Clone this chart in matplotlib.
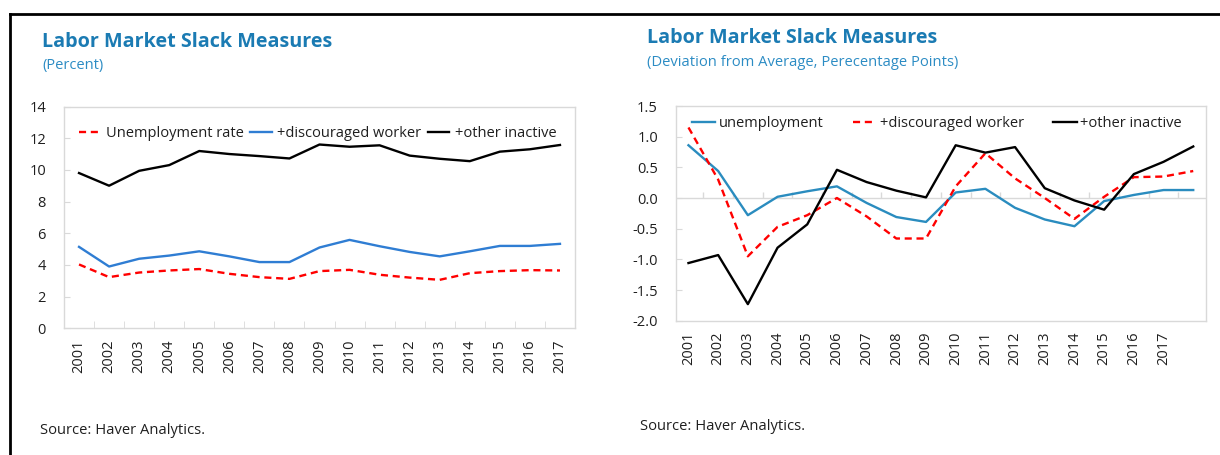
"""
Labor market slack measures - two panel line chart
"""
import matplotlib.pyplot as plt
from matplotlib.lines import Line2D
import numpy as np

plt.rcParams['font.family'] = ['Open Sans', 'DejaVu Sans']

years = [str(y) for y in range(2001, 2018)]

# left panel, percent
unemp_rate = [4.03, 3.23, 3.52, 3.65, 3.74, 3.44, 3.23, 3.12, 3.61, 3.69,
              3.38, 3.20, 3.06, 3.48, 3.61, 3.67, 3.65]
disc_worker = [5.14, 3.90, 4.39, 4.59, 4.86, 4.54, 4.18, 4.18, 5.10, 5.58,
               5.18, 4.82, 4.54, 4.86, 5.20, 5.20, 5.33]
other_inactive = [9.80, 9.00, 9.94, 10.30, 11.19, 11.00, 10.87, 10.72, 11.60, 11.46,
                  11.55, 10.90, 10.70, 10.55, 11.15, 11.30, 11.57]

# right panel, deviation from average (18 obs, last one has no label)
dev_unemp = [0.86, 0.44, -0.28, 0.02, 0.11, 0.19, -0.08, -0.31, -0.39, 0.09,
             0.15, -0.16, -0.35, -0.46, -0.05, 0.05, 0.13, 0.13]
dev_disc = [1.15, 0.30, -0.95, -0.47, -0.28, 0.00, -0.30, -0.66, -0.66, 0.19,
            0.73, 0.32, 0.00, -0.34, 0.02, 0.34, 0.35, 0.44]
dev_other = [-1.06, -0.93, -1.73, -0.81, -0.43, 0.46, 0.26, 0.12, 0.01, 0.86,
             0.74, 0.83, 0.16, -0.04, -0.19, 0.39, 0.59, 0.84]

TITLE_C = '#1B7BB3'
SUB_C = '#2C8CC4'
SPINE_C = '#D9D9D9'
TEXT_C = '#1F1F1F'
RED = '#FF0000'
BLUE = '#2F7DD3'
TEAL = '#2A8CBF'

fig = plt.figure(figsize=(12.2, 4.55), dpi=100)

# outer frame (top and left edges only)
fig.add_artist(Line2D([10 / 1220, 1.0], [1 - 14 / 455, 1 - 14 / 455], color='black', lw=2.0))
fig.add_artist(Line2D([10 / 1220, 10 / 1220], [0.0, 1 - 14 / 455], color='black', lw=2.0))


def style_axes(ax):
    for sp in ax.spines.values():
        sp.set_color(SPINE_C)
        sp.set_linewidth(1.0)
    ax.tick_params(axis='y', direction='in', length=4, color=SPINE_C,
                   labelsize=10.5, labelcolor=TEXT_C, pad=13)
    ax.tick_params(axis='x', which='major', length=0, labelsize=10.5,
                   labelcolor=TEXT_C, labelrotation=90)


# ---- left panel ----
ax1 = fig.add_axes([64 / 1220, 1 - 328.3 / 455, 511 / 1220, 221.8 / 455])
x1 = np.arange(len(years))
ax1.plot(x1, unemp_rate, color=RED, lw=1.7, ls=(0, (3, 2)), label='Unemployment rate')
ax1.plot(x1, disc_worker, color=BLUE, lw=1.7, label='+discouraged worker')
ax1.plot(x1, other_inactive, color='black', lw=1.7, label='+other inactive')
ax1.set_xlim(-0.5, len(years) - 0.5)
ax1.set_ylim(0, 14)
ax1.set_yticks(np.arange(0, 15, 2))
ax1.set_xticks(x1)
ax1.set_xticklabels(years)
ax1.set_xticks(np.arange(0.5, len(years) - 1, 1), minor=True)
style_axes(ax1)
ax1.tick_params(axis='x', which='major', pad=8)
ax1.tick_params(axis='x', which='minor', direction='in', length=5, color=SPINE_C)
ax1.legend(loc='upper left', bbox_to_anchor=(79 / 1220, 1 - 126 / 455),
           bbox_transform=fig.transFigure, ncol=3, frameon=False, fontsize=10.5,
           handlelength=1.45, handletextpad=0.4, columnspacing=0.45, borderpad=0,
           borderaxespad=0, labelcolor=TEXT_C)

fig.text(42 / 1220, 1 - 42 / 455, 'Labor Market Slack Measures', color=TITLE_C,
         fontsize=14.2, fontweight='bold', va='center', ha='left')
fig.text(42 / 1220, 1 - 66 / 455, '(Percent)', color=SUB_C, fontsize=10.5,
         va='center', ha='left')
fig.text(40 / 1220, 1 - 431 / 455, 'Source: Haver Analytics.', color=TEXT_C,
         fontsize=10.6, va='center', ha='left')

# ---- right panel ----
ax2 = fig.add_axes([676 / 1220, 1 - 320.7 / 455, 529.7 / 1220, 214.7 / 455])
x2 = np.arange(len(dev_unemp))
ax2.plot(x2, dev_unemp, color=TEAL, lw=1.7, label='unemployment')
ax2.plot(x2, dev_disc, color=RED, lw=1.7, ls=(0, (3, 2)), label='+discouraged worker')
ax2.plot(x2, dev_other, color='black', lw=1.7, label='+other inactive')
ax2.set_xlim(-0.42, len(dev_unemp) - 0.58)
ax2.set_ylim(-2.0, 1.5)
ax2.set_yticks(np.arange(-2.0, 1.51, 0.5))
ax2.set_yticklabels([f'{v:.1f}' for v in np.arange(-2.0, 1.51, 0.5)])
ax2.set_xticks(np.arange(len(years)))
ax2.set_xticklabels(years)
style_axes(ax2)
ax2.tick_params(axis='x', which='major', pad=8)
# category axis at zero with ticks between categories
ax2.axhline(0, color=SPINE_C, lw=1.0, zorder=1)
ax2.vlines(np.arange(0.5, len(dev_unemp) - 1, 1), 0, 0.1, color=SPINE_C, lw=1.0, zorder=1)
ax2.legend(loc='upper left', bbox_to_anchor=(692 / 1220, 1 - 116 / 455),
           bbox_transform=fig.transFigure, ncol=3, frameon=False, fontsize=10.5,
           handlelength=1.6, handletextpad=0.25, columnspacing=2.0, borderpad=0,
           borderaxespad=0, labelcolor=TEXT_C)

fig.text(647 / 1220, 1 - 38 / 455, 'Labor Market Slack Measures', color=TITLE_C,
         fontsize=14.2, fontweight='bold', va='center', ha='left')
fig.text(647 / 1220, 1 - 62 / 455, '(Deviation from Average, Perecentage Points)',
         color=SUB_C, fontsize=10.6, va='center', ha='left')
fig.text(640 / 1220, 1 - 426 / 455, 'Source: Haver Analytics.', color=TEXT_C,
         fontsize=10.6, va='center', ha='left')

plt.savefig('out.png', dpi=100)
